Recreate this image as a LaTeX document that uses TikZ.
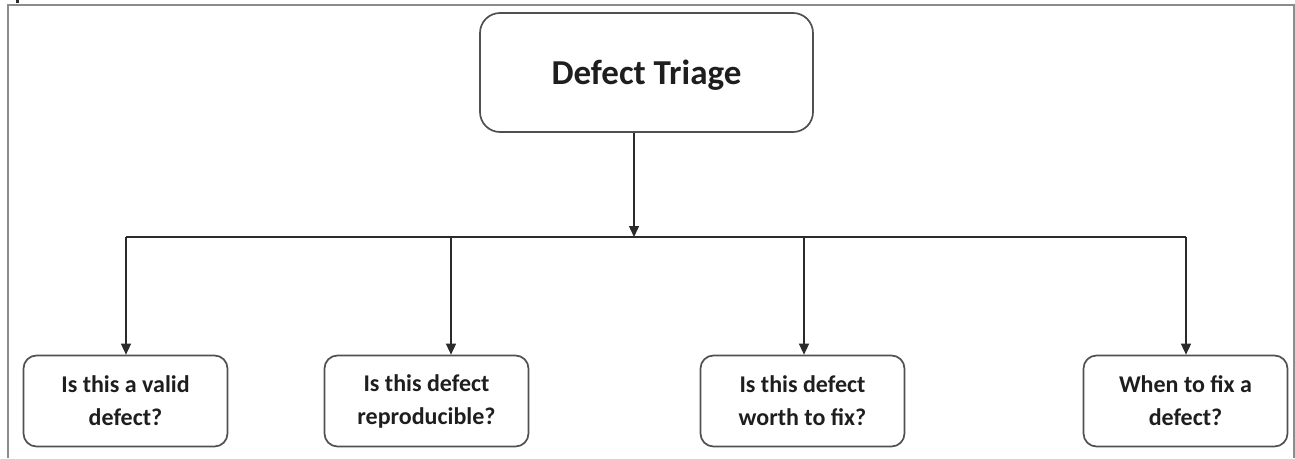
\documentclass[tikz,border=0pt]{standalone}
\usepackage{fontspec}
\setmainfont{Carlito}
\usetikzlibrary{arrows.meta}
\definecolor{linec}{HTML}{2B2B2B}
\definecolor{boxc}{HTML}{505050}
\definecolor{framec}{HTML}{8C8C8C}
\definecolor{textc}{HTML}{1E1E1E}
\tikzset{
  every node/.style={text=textc, font=\bfseries},
  titlebox/.style={draw=boxc, line width=1.7pt, rounded corners=20pt,
    minimum width=333pt, minimum height=119pt, inner sep=0pt,
    text depth=-2pt,
    font=\fontsize{35}{42}\selectfont\bfseries},
  qbox/.style={draw=boxc, line width=1.7pt, rounded corners=13pt,
    minimum width=204pt, minimum height=91pt, inner sep=0pt, align=center,
    font=\fontsize{24}{33}\selectfont\bfseries},
  link/.style={draw=linec, line width=1.5pt},
  arr/.style={link, -{Triangle[width=10pt,length=11pt]}},
}
\begin{document}
\begin{tikzpicture}[x=1pt, y=-1pt]
  \useasboundingbox (0,0) rectangle (1295,458);
  % outer frame, open at the bottom
  \draw[framec, line width=1.8pt] (8,458) -- (8,5) -- (1294,5) -- (1294,458);
  \fill[linec] (15.5,0) rectangle (19,3);

  % root and the four triage questions
  \node[titlebox] (top) at (646.5,72.5) {Defect Triage};
  \node[qbox] (b1) at (125.5,401) {Is this a valid\\defect?};
  \node[qbox] (b2) at (426.5,401) {Is this defect\\reproducible?};
  \node[qbox] (b3) at (802.5,401) {Is this defect\\worth to fix?};
  \node[qbox] (b4) at (1185.5,401) {When to fix a\\defect?};

  % junctions on the distribution bus
  \coordinate (hub) at (634,237);
  \coordinate (j1) at (126,237);
  \coordinate (j2) at (451,237);
  \coordinate (j3) at (804,237);
  \coordinate (j4) at (1186,237);

  % connectors
  \draw[arr] (top.south -| hub) -- (hub);
  \draw[link] (j1) -- (j4);
  \draw[arr] (j1) -- (j1 |- b1.north);
  \draw[arr] (j2) -- (j2 |- b2.north);
  \draw[arr] (j3) -- (j3 |- b3.north);
  \draw[arr] (j4) -- (j4 |- b4.north);
\end{tikzpicture}
\end{document}
